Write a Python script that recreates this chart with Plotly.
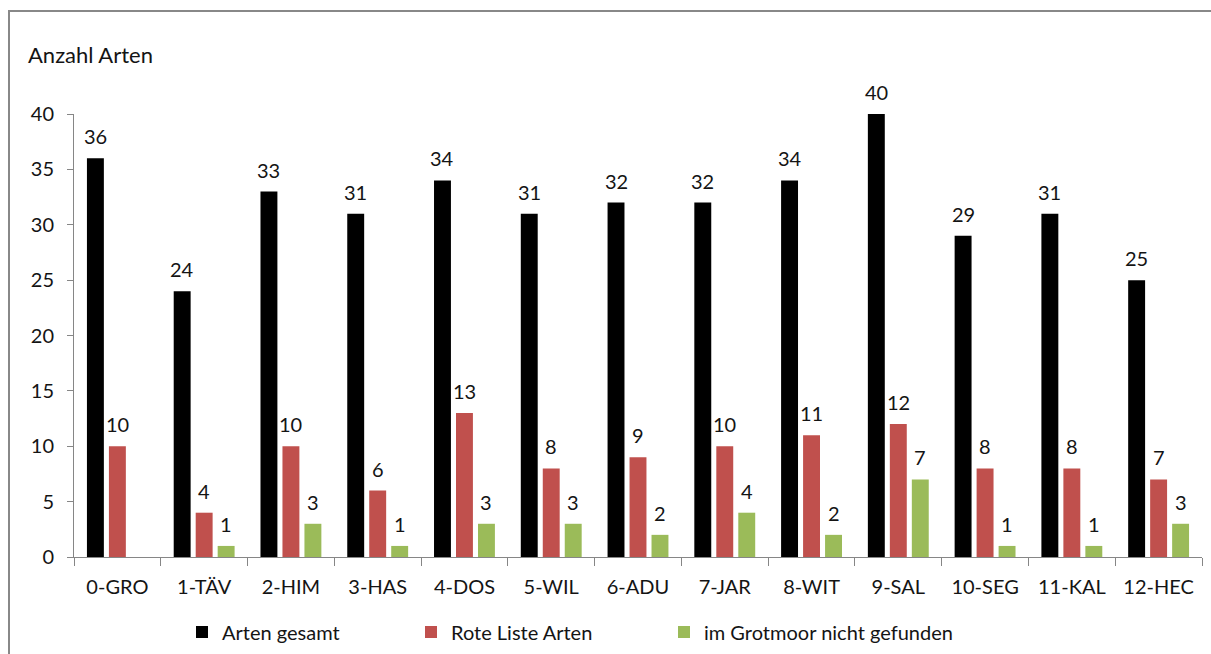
import plotly.graph_objects as go

categories = ["0-GRO", "1-TÄV", "2-HIM", "3-HAS", "4-DOS", "5-WIL", "6-ADU",
              "7-JAR", "8-WIT", "9-SAL", "10-SEG", "11-KAL", "12-HEC"]
arten_gesamt = [36, 24, 33, 31, 34, 31, 32, 32, 34, 40, 29, 31, 25]
rote_liste = [10, 4, 10, 6, 13, 8, 9, 10, 11, 12, 8, 8, 7]
nicht_gefunden = [0, 1, 3, 1, 3, 3, 2, 4, 2, 7, 1, 1, 3]
y_ticks = [0, 5, 10, 15, 20, 25, 30, 35, 40]

series = [
    ("Arten gesamt", arten_gesamt, "#000000"),
    ("Rote Liste Arten", rote_liste, "#C0504D"),
    ("im Grotmoor nicht gefunden", nicht_gefunden, "#9BBB59"),
]

FONT = "Lato"
TXT = "#141414"
W, H = 1211, 654
ML, MR, MT, MB = 74, 9, 114, 97
PW = W - ML - MR
PH = H - MT - MB

def px_to_paper_x(px):
    return (px - ML) / PW

def px_to_paper_y(py):
    return (H - MB - py) / PH

fig = go.Figure()
legend_names = ["legend", "legend2", "legend3"]
for (name, vals, col), lg in zip(series, legend_names):
    fig.add_trace(go.Bar(
        name=name, x=categories, y=vals,
        marker=dict(color=col, line=dict(width=0)),
        legend=lg,
    ))

# data labels
slot = 22
annotations = []
for i, (name, vals, col) in enumerate(series):
    for c, v in zip(categories, vals):
        if v:
            annotations.append(dict(
                x=c, y=v, xref="x", yref="y", text=str(v), showarrow=False,
                xshift=(i - 1) * slot, yshift=8, yanchor="bottom",
                font=dict(family=FONT, size=20, color=TXT),
            ))

legend_centers = [204, 433, 686]
legend_common = dict(
    orientation="h", yanchor="middle", xanchor="left",
    xref="container", yref="container",
    font=dict(family=FONT, size=20, color=TXT),
    bgcolor="rgba(0,0,0,0)", borderwidth=0,
)
legends = {}
for lg, cx in zip(legend_names, legend_centers):
    legends[lg] = dict(legend_common, x=(cx - 22) / W, y=1 - 632 / H)

fig.update_layout(
    width=W, height=H,
    margin=dict(l=ML, r=MR, t=MT, b=MB, autoexpand=False),
    paper_bgcolor="white", plot_bgcolor="white",
    barmode="group", bargap=0.24, bargroupgap=0.23,
    font=dict(family=FONT, size=20, color=TXT),
    title=dict(text="Anzahl Arten", x=28 / W, xanchor="left", y=1 - 55 / H,
               yanchor="middle", font=dict(family=FONT, size=22, color=TXT)),
    annotations=annotations,
    showlegend=True,
    **legends,
    xaxis=dict(
        type="category", showline=True, linecolor="#868686", linewidth=1,
        ticks="outside", tickson="boundaries", ticklen=8, tickcolor="#868686",
        showgrid=False, zeroline=False,
        tickfont=dict(family=FONT, size=20, color=TXT),
        ticklabelstandoff=12,
    ),
    yaxis=dict(
        range=[0, 40], tickvals=y_ticks, showline=True, linecolor="#868686",
        linewidth=1, ticks="outside", ticklen=6, tickcolor="#868686",
        showgrid=False, zeroline=False,
        tickfont=dict(family=FONT, size=20, color=TXT),
        ticklabelstandoff=9,
    ),
    shapes=[dict(
        type="rect", xref="paper", yref="paper",
        x0=px_to_paper_x(9), x1=px_to_paper_x(W + 20),
        y0=px_to_paper_y(H + 20), y1=px_to_paper_y(11),
        line=dict(color="#888888", width=2), fillcolor="rgba(0,0,0,0)",
        layer="below",
    )],
)

fig.write_html(
    "out.html",
    config={"displayModeBar": False},
    post_script="document.body.style.margin='0';document.body.style.overflow='hidden';",
)
